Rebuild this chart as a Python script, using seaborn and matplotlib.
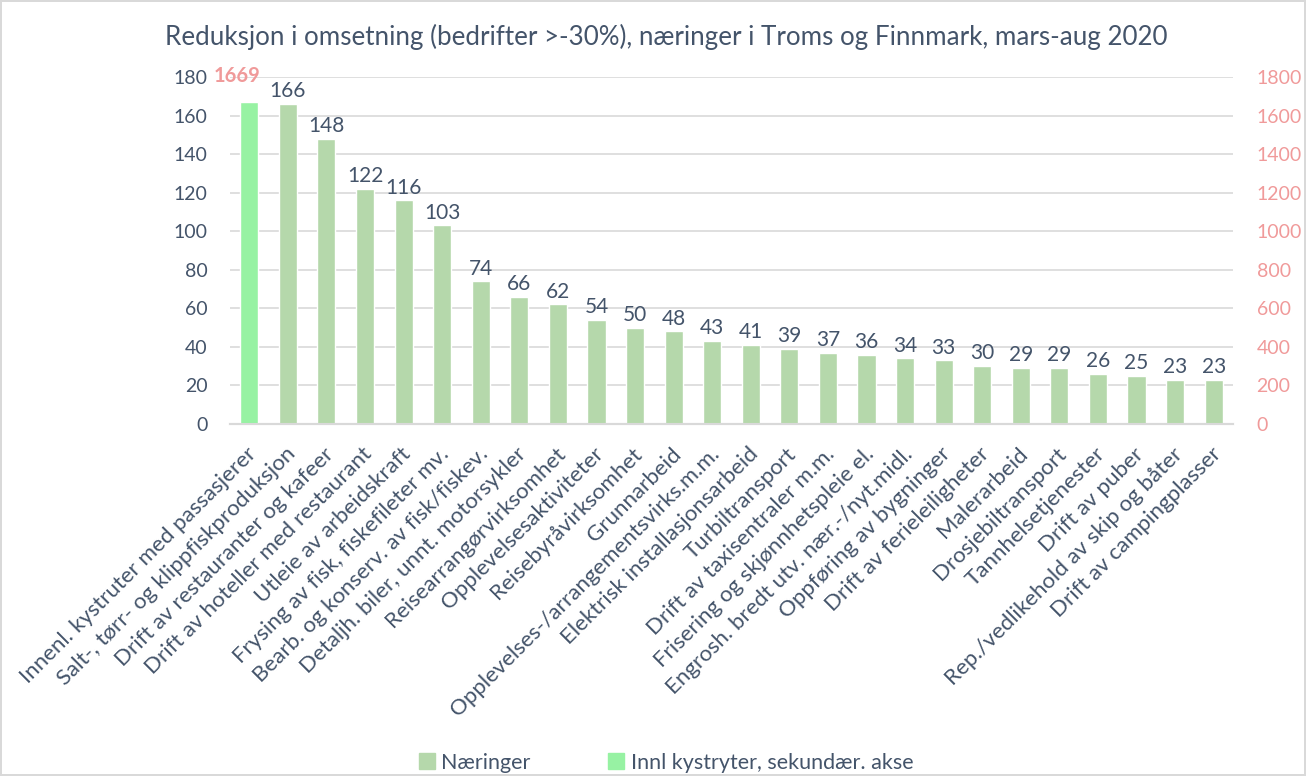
import numpy as np
import pandas as pd
import matplotlib
matplotlib.use('Agg')
import matplotlib.pyplot as plt
import matplotlib.transforms as mtransforms
from matplotlib.patches import Patch
import seaborn as sns

sns.set_style('white')
plt.rcParams['font.family'] = ['Lato', 'DejaVu Sans']

categories = [
    'Innenl. kystruter med passasjerer',
    'Salt-, tørr- og klippfiskproduksjon',
    'Drift av restauranter og kafeer',
    'Drift av hoteller med restaurant',
    'Utleie av arbeidskraft',
    'Frysing av fisk, fiskefileter mv.',
    'Bearb. og konserv. av fisk/fiskev.',
    'Detaljh. biler, unnt. motorsykler',
    'Reisearrangørvirksomhet',
    'Opplevelsesaktiviteter',
    'Reisebyråvirksomhet',
    'Grunnarbeid',
    'Opplevelses-/arrangementsvirks.m.m.',
    'Elektrisk installasjonsarbeid',
    'Turbiltransport',
    'Drift av taxisentraler m.m.',
    'Frisering og skjønnhetspleie el.',
    'Engrosh. bredt utv. nær.-/nyt.midl.',
    'Oppføring av bygninger',
    'Drift av ferieleiligheter',
    'Malerarbeid',
    'Drosjebiltransport',
    'Tannhelsetjenester',
    'Drift av puber',
    'Rep./vedlikehold av skip og båter',
    'Drift av campingplasser',
]
naeringer = [np.nan, 166, 148, 122, 116, 103, 74, 66, 62, 54, 50, 48, 43, 41,
             39, 37, 36, 34, 33, 30, 29, 29, 26, 25, 23, 23]
kystruter = [1669] + [np.nan] * 25

title = 'Reduksjon i omsetning (bedrifter >-30%), næringer i Troms og Finnmark, mars-aug 2020'
c_main = '#B5D8AB'
c_sec = '#97F2A3'
c_text = '#44546A'
c_sec_text = '#F09A9A'

df = pd.DataFrame({'kat': categories, 'naer': naeringer, 'kyst': kystruter})

fig = plt.figure(figsize=(13.06, 7.76), dpi=100)
fig.patch.set_edgecolor('#D9D9D9')
fig.patch.set_linewidth(1.5)
ax = fig.add_axes([0.1761, 0.4536, 0.768, 0.4472])
ax2 = ax.twinx()

sns.barplot(data=df, x='kat', y='naer', order=categories, color=c_main,
            width=0.47, saturation=1, ax=ax)
sns.barplot(data=df, x='kat', y='kyst', order=categories, color=c_sec,
            width=0.47, saturation=1, ax=ax2)

ax.set_ylim(0, 180)
ax.set_yticks(np.arange(0, 181, 20))
ax2.set_ylim(0, 1800)
ax2.set_yticks(np.arange(0, 1801, 200))
ax.set_xlim(-0.5, len(categories) - 0.5)

ax.yaxis.grid(True, color='#D9D9D9', linewidth=1.2)
ax.set_axisbelow(True)
for a in (ax, ax2):
    for s in ['top', 'left', 'right']:
        a.spines[s].set_visible(False)
    a.spines['bottom'].set_color('#D9D9D9')
    a.spines['bottom'].set_linewidth(1.5)
    a.set_xlabel('')
    a.set_ylabel('')
    a.tick_params(length=0)

ax.tick_params(axis='y', labelsize=14, colors=c_text, pad=16)
ax2.tick_params(axis='y', labelsize=14, colors=c_sec_text, pad=17)

ax.set_xticks(range(len(categories)))
ax.set_xticklabels(categories, rotation=45, ha='right', rotation_mode='anchor',
                   fontsize=16, color=c_text)
offset = mtransforms.ScaledTranslation(-0.03, -0.15, fig.dpi_scale_trans)
for lbl in ax.get_xticklabels():
    lbl.set_transform(lbl.get_transform() + offset)

for i, v in enumerate(naeringer):
    if not np.isnan(v):
        ax.annotate(f'{v:.0f}', (i, v), xytext=(0, 2), textcoords='offset points',
                    ha='center', va='bottom', fontsize=15, color=c_text)
ax2.annotate(f'{kystruter[0]}', (0, kystruter[0]), xytext=(-9, 12),
             textcoords='offset points', ha='center', va='bottom', fontsize=14.5,
             color=c_sec_text, fontweight='bold', annotation_clip=False)

fig.text(0.510, 0.952, title, ha='center', va='center', fontsize=18.7, color=c_text)

handles = [Patch(color=c_main, label='Næringer'),
           Patch(color=c_sec, label='Innl kystryter, sekundær. akse')]
fig.legend(handles=handles, loc='center', bbox_to_anchor=(0.510, 0.017), ncol=2,
           frameon=False, fontsize=15.5, handlelength=0.75, handleheight=0.75,
           columnspacing=3.6, handletextpad=0.3, labelcolor=c_text)

fig.savefig('out.png', dpi=100, edgecolor=fig.get_edgecolor())
